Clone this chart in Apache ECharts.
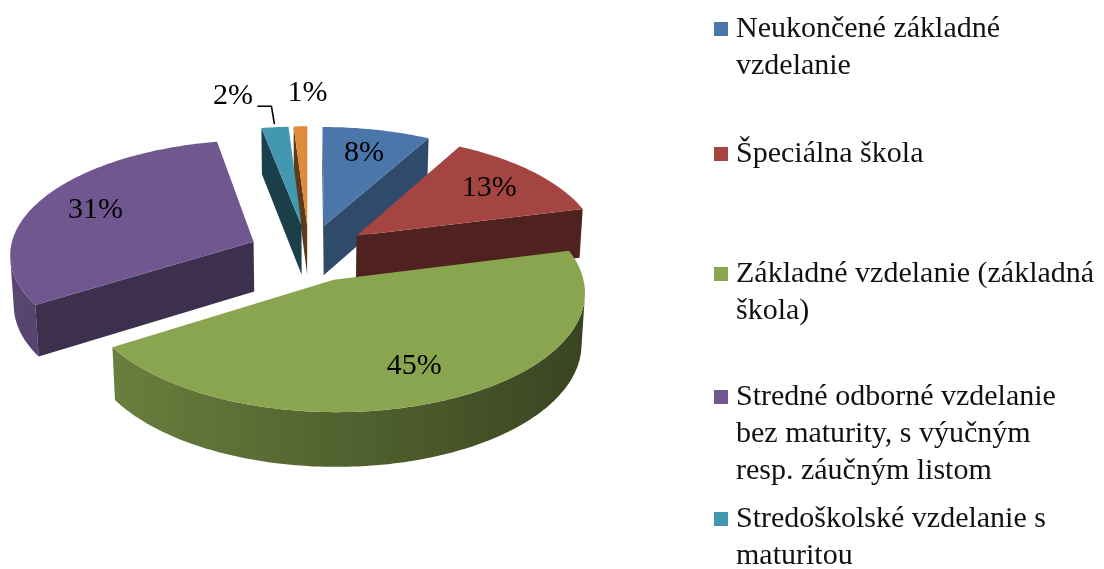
<!DOCTYPE html>
<html>
<head>
<meta charset="utf-8">
<script src="https://cdn.jsdelivr.net/npm/echarts@6/dist/echarts.min.js"></script>
<style>
  html, body { margin: 0; padding: 0; background: #ffffff; }
  #chart { width: 1104px; height: 569px; }
</style>
</head>
<body>
<div id="chart"></div>
<script>
// Education level of respondents (share in %)
const categories = [
  'Neukončené základné\nvzdelanie',
  'Špeciálna škola',
  'Základné vzdelanie (základná\nškola)',
  'Stredné odborné vzdelanie\nbez maturity, s výučným\nresp. záučným listom',
  'Stredoškolské vzdelanie s\nmaturitou',
  'Vysokoškolské vzdelanie'
];
const shares = [8, 13, 45, 31, 2, 1];
const colors = ['#4A76AA', '#A54541', '#8AA550', '#70578F', '#4298B0', '#DE8B3C'];

// Layout of the exploded 3D pie (perspective view)
const VIEW = { cx: 309, cy: 253, scale: 244, tilt: 27.8, dist: 9, explode: 0.25, height: 0.235, labelR: 0.74 };
// Slices too thin for an inner label get it outside, above the rim
const OUTSIDE_LABELS = {
  4: { dx: -42, dy: -31, leader: [[-0.5, -3], [-3.5, -21], [-17.5, -21]] },
  5: { dx: 7, dy: -33 }
};
// Legend entries: icon top positions (equal slots)
const LEGEND_TOPS = [22, 147, 267, 390, 512];
const LEGEND_LINE = 37;

const RAD = Math.PI / 180;
const sinT = Math.sin(VIEW.tilt * RAD), cosT = Math.cos(VIEW.tilt * RAD);
const total = shares.reduce((a, b) => a + b, 0);
const startAngles = [];
(function () { let acc = 0; shares.forEach(v => { startAngles.push(acc / total * 2 * Math.PI); acc += v; }); })();

// world: X right, Z away from viewer, Y up (top face at 0)
function project(X, Z, Y) {
  const v = Z * sinT + Y * cosT;
  const w = VIEW.dist + Z * cosT - Y * sinT;
  const s = VIEW.dist / w;
  return [VIEW.cx + VIEW.scale * X * s, VIEW.cy - VIEW.scale * v * s];
}
function depthOf(X, Z, Y) { return VIEW.dist + Z * cosT - Y * sinT; }
function signedArea(pts) {
  let a = 0;
  for (let k = 0; k < pts.length; k++) {
    const p = pts[k], q = pts[(k + 1) % pts.length];
    a += p[0] * q[1] - q[0] * p[1];
  }
  return a / 2;
}
function shade(hex, f) {
  const n = parseInt(hex.slice(1), 16);
  const r = Math.round(((n >> 16) & 255) * f), g = Math.round(((n >> 8) & 255) * f), b = Math.round((n & 255) * f);
  return 'rgb(' + r + ',' + g + ',' + b + ')';
}

function renderSlice(params, api) {
  const i = params.seriesIndex;
  const base = colors[i];
  const a0 = startAngles[i];
  const a1 = a0 + api.value(0) / total * 2 * Math.PI;
  const mid = (a0 + a1) / 2;
  const ox = VIEW.explode * Math.sin(mid), oz = VIEW.explode * Math.cos(mid);
  const H = -VIEW.height;
  const P = (r, a, y) => project(ox + r * Math.sin(a), oz + r * Math.cos(a), y);

  const zBase = Math.round((20 - depthOf(ox + 0.5 * Math.sin(mid), oz + 0.5 * Math.cos(mid), 0)) * 1000);
  const children = [];

  const N = Math.max(2, Math.ceil((a1 - a0) / RAD));
  const angs = [], tops = [], bots = [];
  for (let k = 0; k <= N; k++) {
    const a = a0 + (a1 - a0) * k / N;
    angs.push(a); tops.push(P(1, a, 0)); bots.push(P(1, a, H));
  }

  // outer curved wall: only the part facing the viewer
  const vis = [];
  for (let k = 0; k < N; k++) {
    vis.push(signedArea([tops[k + 1], tops[k], bots[k], bots[k + 1]]) > 0);
  }
  let k = 0;
  while (k < N) {
    if (!vis[k]) { k++; continue; }
    let e = k;
    while (e + 1 < N && vis[e + 1]) e++;
    const pts = [];
    for (let j = k; j <= e + 1; j++) pts.push(tops[j]);
    for (let j = e + 1; j >= k; j--) pts.push(bots[j]);
    let minX = Infinity, maxX = -Infinity;
    for (let j = k; j <= e + 1; j++) { minX = Math.min(minX, tops[j][0]); maxX = Math.max(maxX, tops[j][0]); }
    let fill;
    if (maxX - minX < 2) {
      fill = shade(base, 0.6 - 0.2 * Math.sin(angs[k]));
    } else {
      const stops = [];
      for (let j = k; j <= e + 1; j += 4) {
        stops.push({ offset: (tops[j][0] - minX) / (maxX - minX), color: shade(base, 0.6 - 0.2 * Math.sin(angs[j])) });
      }
      stops.push({ offset: (tops[e + 1][0] - minX) / (maxX - minX), color: shade(base, 0.6 - 0.2 * Math.sin(angs[e + 1])) });
      stops.sort((p, q) => p.offset - q.offset);
      fill = new echarts.graphic.LinearGradient(0, 0, 1, 0, stops);
    }
    children.push({ type: 'polygon', z2: zBase, shape: { points: pts }, style: { fill: fill } });
    k = e + 1;
  }

  // radial cut faces
  const vTop = P(0, 0, 0), vBot = P(0, 0, H);
  const faces = [
    { pts: [P(1, a0, 0), vTop, vBot, P(1, a0, H)], nx: Math.sin(a0 - Math.PI / 2) },
    { pts: [vTop, P(1, a1, 0), P(1, a1, H), vBot], nx: Math.sin(a1 + Math.PI / 2) }
  ];
  faces.forEach(f => {
    if (signedArea(f.pts) > 0) {
      children.push({ type: 'polygon', z2: zBase + 1, shape: { points: f.pts },
        style: { fill: shade(base, 0.42 + 0.24 * Math.max(f.nx, 0)) } });
    }
  });

  // top face
  children.push({ type: 'polygon', z2: zBase + 2, shape: { points: [vTop].concat(tops) }, style: { fill: base } });

  // value label
  const text = api.value(0) + '%';
  const font = { fontFamily: '"Liberation Serif", "DejaVu Serif", serif', fontSize: 30, fill: '#000', align: 'center', verticalAlign: 'middle' };
  const out = OUTSIDE_LABELS[i];
  if (out) {
    const anchor = P(1, mid, 0);
    children.push({ type: 'text', z2: 90000, style: Object.assign({ text: text, x: anchor[0] + out.dx, y: anchor[1] + out.dy }, font) });
    if (out.leader) {
      children.push({ type: 'polyline', z2: 90000,
        shape: { points: out.leader.map(p => [anchor[0] + p[0], anchor[1] + p[1]]) },
        style: { stroke: '#000', lineWidth: 1.6, fill: null } });
    }
  } else {
    const lp = P(VIEW.labelR, mid, 0);
    children.push({ type: 'text', z2: 90000, style: Object.assign({ text: text, x: lp[0], y: lp[1] }, font) });
  }

  return { type: 'group', children: children };
}

const chart = echarts.init(document.getElementById('chart'), null, { renderer: 'canvas' });

const series = categories.map((name, i) => ({
  type: 'custom',
  name: name,
  coordinateSystem: 'none',
  silent: true,
  animation: false,
  itemStyle: { color: colors[i] },
  data: [shares[i]],
  renderItem: renderSlice
}));

// Each entry is its own legend so every entry gets the same slot height;
// blank leading lines keep the icon level with the first text line.
const legends = LEGEND_TOPS.map((iconTop, i) => {
  const lines = categories[i].split('\n').length;
  return {
    data: [categories[i]],
    left: 714,
    top: iconTop + 7 - (2 * lines - 1) * LEGEND_LINE / 2,
    padding: 0,
    icon: 'rect',
    itemWidth: 14,
    itemHeight: 14,
    selectedMode: false,
    formatter: name => '\u00a0\n'.repeat(lines - 1) + name,
    textStyle: {
      fontFamily: '"Liberation Serif", "DejaVu Serif", serif',
      fontSize: 30,
      lineHeight: LEGEND_LINE,
      color: '#111',
      padding: [0, 0, 0, 3]
    }
  };
});

chart.setOption({
  backgroundColor: '#ffffff',
  animation: false,
  legend: legends,
  series: series
});
</script>
</body>
</html>
